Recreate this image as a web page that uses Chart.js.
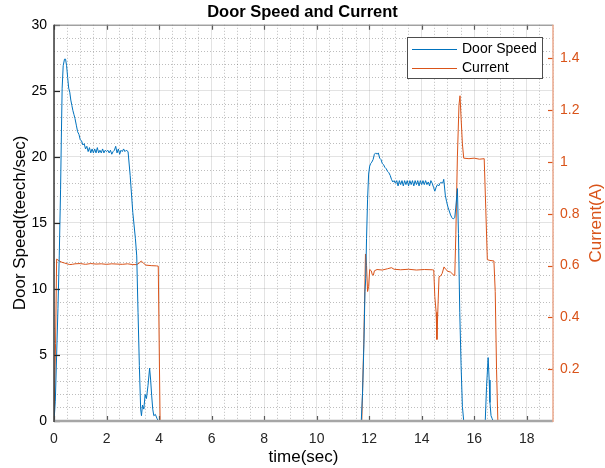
<!DOCTYPE html>
<html>
<head>
<meta charset="utf-8">
<script src="https://cdn.jsdelivr.net/npm/chart.js@4.4.1/dist/chart.umd.min.js"></script>
<style>
  html, body { margin: 0; padding: 0; background: #fff; }
  #wrap { width: 605px; height: 468px; }
</style>
</head>
<body>
<div id="wrap"><canvas id="doorChart" width="605" height="468"></canvas></div>
<script>
// Door speed samples (time in sec, speed in teech/sec)
const speedTime = [
  0, 0.05, 0.1, 0.15, 0.2, 0.25, 0.28, 0.31, 0.35, 0.4, 0.44, 0.48, 0.52, 0.56, 0.6, 0.64, 0.68, 0.72, 0.76, 0.8,
  0.85, 0.9, 0.95, 1.0, 1.05, 1.1, 1.15, 1.2, 1.25, 1.3, 1.35, 1.4, 1.45, 1.5, 1.55, 1.6, 1.65, 1.7, 1.75, 1.8,
  1.85, 1.9, 1.95, 2.0, 2.05, 2.1, 2.15, 2.2, 2.25, 2.3, 2.35, 2.4, 2.45, 2.5, 2.55, 2.6, 2.65, 2.7, 2.75, 2.82,
  2.9, 3.0, 3.1, 3.15, 3.2, 3.25, 3.3, 3.33, 3.37, 3.42, 3.47, 3.52, 3.58, 3.64, 3.68, 3.72, 3.76, 3.8, 3.86, 3.92,
  3.97, 11.7, 11.75, 11.8, 11.84, 11.87, 11.9, 11.94, 11.98, 12.02, 12.06, 12.1, 12.15, 12.2, 12.25, 12.3, 12.35, 12.4, 12.45, 12.5,
  12.55, 12.6, 12.65, 12.7, 12.75, 12.8, 12.85, 12.9, 12.95, 13.0, 13.05, 13.1, 13.15, 13.2, 13.25, 13.3, 13.35, 13.4, 13.45, 13.5,
  13.55, 13.6, 13.65, 13.7, 13.75, 13.8, 13.85, 13.9, 13.95, 14.0, 14.05, 14.1, 14.15, 14.2, 14.25, 14.3, 14.35, 14.4, 14.45, 14.5,
  14.55, 14.6, 14.65, 14.7, 14.75, 14.8, 14.84, 14.9, 14.95, 15.0, 15.05, 15.1, 15.15, 15.2, 15.26, 15.3, 15.36, 15.4, 15.45, 15.5,
  15.55, 15.6, 16.42, 16.47, 16.53, 16.57, 16.6, 16.64, 16.68, 16.72, 19
];
const speedValues = [
  0, 1.5, 5, 8.5, 12.5, 17.5, 21.5, 25.2, 26.9, 27.4, 27.4, 26.9, 26.0, 25.2, 24.9, 24.3, 23.9, 23.5, 23.2, 22.9,
  22.4, 21.9, 21.7, 21.3, 21.2, 20.9, 21.0, 20.6, 20.8, 20.4, 20.7, 20.3, 20.6, 20.3, 20.6, 20.3, 20.7, 20.3, 20.5, 20.3,
  20.6, 20.3, 20.5, 20.4, 20.5, 20.3, 20.5, 20.2, 20.4, 20.5, 20.8, 20.3, 20.6, 20.2, 20.5, 20.4, 20.6, 20.4, 20.5, 20.4,
  18.6, 15.8, 13.8, 12.5, 8.2, 4.2, 0.9, 0.4, 1.2, 0.9, 2.0, 1.7, 2.7, 4.0, 3.1, 1.9, 0.9, 0.4, 0.5, 0.2,
  0, 0, 2.2, 5.8, 9.8, 10.8, 13.8, 16.8, 18.7, 19.3, 19.5, 19.6, 19.8, 20.2, 20.3, 20.2, 20.3, 19.9, 19.8, 19.5,
  19.4, 19.2, 19.1, 18.9, 18.8, 18.6, 18.3, 18.1, 18.2, 18.0, 18.2, 17.8, 18.2, 17.9, 18.2, 17.8, 18.2, 17.9, 18.2, 17.8,
  18.2, 17.9, 18.2, 17.8, 18.2, 17.9, 18.2, 17.8, 18.2, 17.9, 18.2, 17.9, 18.2, 17.9, 18.1, 17.8, 18.2, 18.0, 17.7, 17.4,
  17.7, 17.9, 17.8, 18.0, 18.1, 18.0, 18.3, 17.1, 16.6, 16.2, 15.9, 15.6, 15.4, 15.3, 15.4, 16.2, 17.6, 14.2, 8.2, 4.2,
  1.1, 0, 0, 2.6, 4.8, 3.1, 1.4, 0.4, 0.2, 0, 0
];

// Motor current samples (time in sec, current in A)
const currentTime = [
  0, 0.06, 0.1, 0.15, 0.2, 0.3, 0.4, 0.5, 0.6, 0.7, 0.8, 1.0, 1.2, 1.4, 1.6, 1.8, 2.0, 2.2, 2.4, 2.6,
  2.8, 3.0, 3.15, 3.25, 3.32, 3.4, 3.5, 3.7, 3.9, 3.97, 4.04, 11.72, 11.8, 11.86, 11.9, 11.94, 11.98, 12.02, 12.08, 12.12,
  12.16, 12.2, 12.3, 12.5, 12.7, 12.85, 12.95, 13.2, 13.5, 13.8, 14.1, 14.4, 14.46, 14.5, 14.55, 14.58, 14.62, 14.66, 14.72, 14.78,
  14.85, 14.92, 15.0, 15.1, 15.2, 15.26, 15.3, 15.36, 15.42, 15.46, 15.5, 15.55, 15.6, 15.8, 16.0, 16.2, 16.38, 16.44, 16.5, 16.6,
  16.75, 16.8, 16.85, 16.9, 19
];
const currentValues = [
  0, 0.3, 0.625, 0.622, 0.618, 0.613, 0.61, 0.607, 0.604, 0.605, 0.607, 0.608, 0.605, 0.608, 0.606, 0.607, 0.605, 0.607, 0.606, 0.605,
  0.607, 0.604, 0.604, 0.61, 0.618, 0.61, 0.602, 0.6, 0.599, 0.598, 0, 0, 0.32, 0.645, 0.6, 0.5, 0.52, 0.585, 0.58, 0.565,
  0.563, 0.58, 0.585, 0.583, 0.588, 0.592, 0.586, 0.584, 0.586, 0.583, 0.585, 0.584, 0.583, 0.48, 0.42, 0.315, 0.44, 0.557, 0.56, 0.57,
  0.595, 0.585, 0.578, 0.575, 0.565, 0.562, 0.72, 1.02, 1.22, 1.256, 1.17, 1.07, 1.015, 1.013, 1.015, 1.011, 1.013, 0.82, 0.623, 0.62,
  0.618, 0.5, 0.2, 0, 0
];

const xMajorTicks = [0, 2, 4, 6, 8, 10, 12, 14, 16, 18];
const speedTicks = [0, 5, 10, 15, 20, 25, 30];
const currentTicks = [0.2, 0.4, 0.6, 0.8, 1, 1.2, 1.4];

const BLUE = "#0072BD";
const ORANGE = "#D95319";
const FONT = "'Liberation Sans', Arial, Helvetica, sans-serif";
const majorGrid = "rgba(38,38,38,0.13)";
const minorGrid = "rgba(38,38,38,0.3)";

function toPoints(xs, ys) {
  return xs.map((x, i) => ({ x: x, y: ys[i] }));
}

// axes box, inward tick marks, legend and right axis title (MATLAB look)
const matlabFrame = {
  id: "matlabFrame",
  afterDatasetsDraw(chart) {
    const { ctx, chartArea: a, scales } = chart;
    ctx.save();
    // inward tick marks
    ctx.lineWidth = 1.2;
    ctx.strokeStyle = "#5a5a5a";
    xMajorTicks.forEach((v) => {
      const px = Math.round(scales.x.getPixelForValue(v)) + 0.5;
      ctx.beginPath();
      ctx.moveTo(px, a.bottom); ctx.lineTo(px, a.bottom - 5);
      ctx.moveTo(px, a.top); ctx.lineTo(px, a.top + 5);
      ctx.stroke();
    });
    ctx.strokeStyle = "#262626";
    speedTicks.forEach((v) => {
      const py = Math.round(scales.y.getPixelForValue(v)) + 0.5;
      ctx.beginPath();
      ctx.moveTo(a.left, py); ctx.lineTo(a.left + 6, py);
      ctx.stroke();
    });
    ctx.strokeStyle = ORANGE;
    currentTicks.forEach((v) => {
      const py = Math.round(scales.y1.getPixelForValue(v)) + 0.5;
      ctx.beginPath();
      ctx.moveTo(a.right, py); ctx.lineTo(a.right - 5, py);
      ctx.stroke();
    });
    // box
    ctx.lineWidth = 1;
    ctx.strokeStyle = "#8a8a8a";
    ctx.beginPath();
    ctx.moveTo(a.left, a.top + 0.5); ctx.lineTo(a.right, a.top + 0.5);
    ctx.stroke();
    ctx.lineWidth = 2.5;
    ctx.strokeStyle = "#a6a6a6";
    ctx.beginPath();
    ctx.moveTo(a.left, a.bottom); ctx.lineTo(a.right, a.bottom);
    ctx.stroke();
    ctx.lineWidth = 1.5;
    ctx.strokeStyle = "#3a3a3a";
    ctx.beginPath();
    ctx.moveTo(a.left, a.top); ctx.lineTo(a.left, a.bottom + 1);
    ctx.stroke();
    ctx.strokeStyle = "#eba88c";
    ctx.beginPath();
    ctx.moveTo(a.right, a.top); ctx.lineTo(a.right, a.bottom + 1);
    ctx.stroke();
    ctx.restore();
  },
  afterDraw(chart) {
    const { ctx, chartArea: a } = chart;
    ctx.save();
    // legend box
    const lx = 407, ly = 37, lw = 135, lh = 41;
    ctx.fillStyle = "#fff";
    ctx.fillRect(lx, ly, lw, lh);
    ctx.strokeStyle = "#4d4d4d";
    ctx.lineWidth = 1;
    ctx.strokeRect(lx + 0.5, ly + 0.5, lw, lh);
    ctx.font = "14px " + FONT;
    ctx.textBaseline = "middle";
    ctx.textAlign = "left";
    chart.data.datasets.forEach((ds, i) => {
      const y = ly + 12.5 + i * 19;
      ctx.strokeStyle = ds.borderColor;
      ctx.lineWidth = 1;
      ctx.beginPath();
      ctx.moveTo(lx + 5, y); ctx.lineTo(lx + 50, y);
      ctx.stroke();
      ctx.fillStyle = "#000";
      ctx.fillText(ds.label, lx + 55, y);
    });
    // right axis title, reads bottom to top like the left one
    ctx.translate(596, (a.top + a.bottom) / 2);
    ctx.rotate(-Math.PI / 2);
    ctx.font = "17px " + FONT;
    ctx.fillStyle = ORANGE;
    ctx.textAlign = "center";
    ctx.fillText("Current(A)", 0, 0);
    ctx.restore();
  }
};

const isMajorX = (c) => c.tick && c.tick.value % 2 === 0;
const isMajorY = (c) => c.tick && c.tick.value % 5 === 0;

const ctx = document.getElementById("doorChart").getContext("2d");
const doorChart = new Chart(ctx, {
  type: "line",
  data: {
    datasets: [
      {
        label: "Door Speed",
        data: toPoints(speedTime, speedValues),
        yAxisID: "y",
        borderColor: BLUE,
        borderWidth: 1,
        pointRadius: 0,
        tension: 0,
      },
      {
        label: "Current",
        data: toPoints(currentTime, currentValues),
        yAxisID: "y1",
        borderColor: ORANGE,
        borderWidth: 1,
        pointRadius: 0,
        tension: 0,
      },
    ],
  },
  options: {
    responsive: false,
    animation: false,
    devicePixelRatio: 1,
    layout: { padding: 0 },
    plugins: {
      legend: { display: false },
      tooltip: { enabled: false },
      title: {
        display: true,
        text: "Door Speed and Current",
        color: "#000",
        font: { family: FONT, size: 16.5, weight: "bold" },
        padding: { top: 3, bottom: 2 },
      },
    },
    scales: {
      x: {
        type: "linear",
        min: 0,
        max: 19,
        afterFit: (s) => { s.height = 47; },
        ticks: {
          stepSize: 0.5,
          autoSkip: false,
          maxRotation: 0,
          padding: 10,
          color: "#262626",
          font: { family: FONT, size: 14 },
          callback: (v) => (xMajorTicks.includes(v) ? String(v) : ""),
        },
        grid: {
          drawTicks: false,
          color: (c) => (isMajorX(c) ? majorGrid : minorGrid),
        },
        border: { display: false, dash: (c) => (isMajorX(c) ? [] : [1, 2]) },
        title: {
          display: true,
          text: "time(sec)",
          color: "#000",
          font: { family: FONT, size: 17 },
          padding: { top: 0, bottom: 0 },
        },
      },
      y: {
        position: "left",
        min: 0,
        max: 30,
        afterFit: (s) => { s.width = 54; },
        ticks: {
          stepSize: 1,
          autoSkip: false,
          padding: 7,
          color: "#000",
          font: { family: FONT, size: 14 },
          callback: (v) => (speedTicks.includes(v) ? String(v) : ""),
        },
        grid: {
          drawTicks: false,
          color: (c) => (isMajorY(c) ? majorGrid : minorGrid),
        },
        border: { display: false, dash: (c) => (isMajorY(c) ? [] : [1, 2]) },
        title: {
          display: true,
          text: "Door Speed(teech/sec)",
          color: "#000",
          font: { family: FONT, size: 17 },
          padding: { top: 10, bottom: 0 },
        },
      },
      y1: {
        position: "right",
        min: 0,
        max: 1.53,
        afterFit: (s) => { s.width = 52; },
        afterBuildTicks: (s) => { s.ticks = currentTicks.map((v) => ({ value: v })); },
        ticks: {
          padding: 7,
          color: ORANGE,
          font: { family: FONT, size: 14 },
          callback: (v) => String(Math.round(v * 10) / 10),
        },
        grid: { drawOnChartArea: false, drawTicks: false },
        border: { display: false },
      },
    },
  },
  plugins: [matlabFrame],
});
</script>
</body>
</html>
